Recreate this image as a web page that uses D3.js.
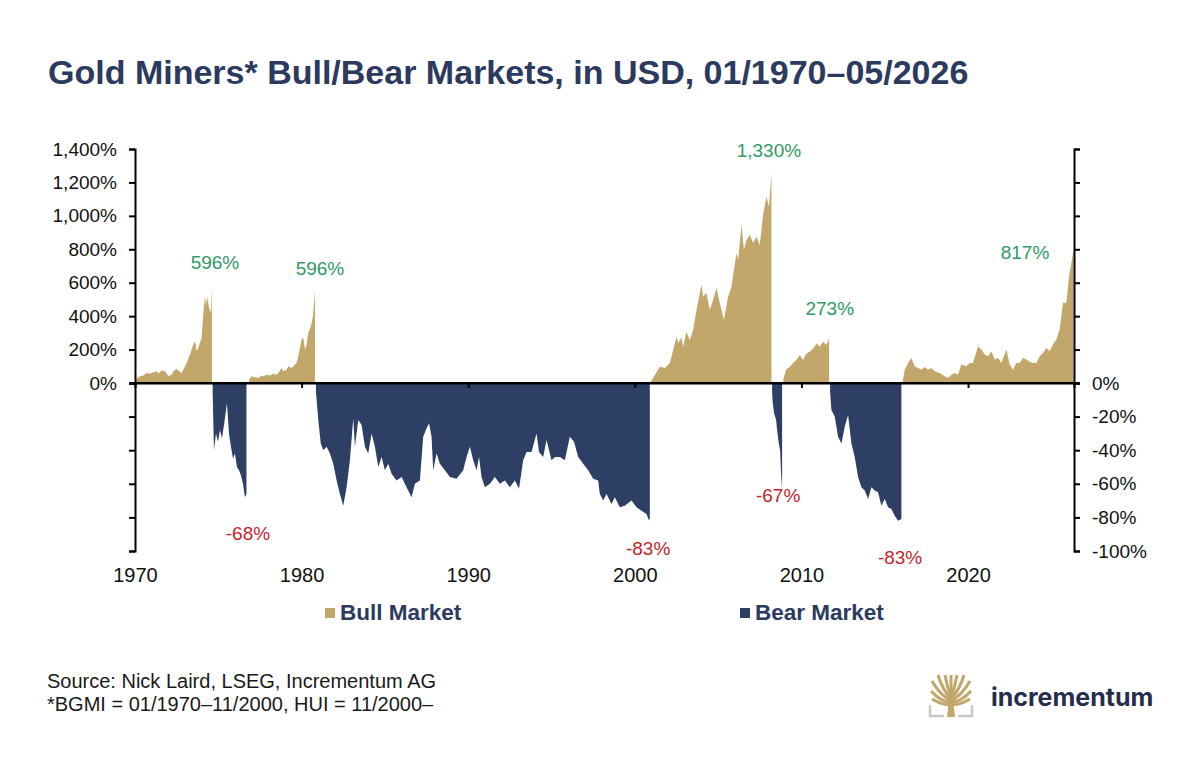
<!DOCTYPE html>
<html>
<head>
<meta charset="utf-8">
<script src="https://cdn.jsdelivr.net/npm/d3@7"></script>
<style>
  body { margin: 0; background: #fff; }
  svg { display: block; font-family: "Liberation Sans", Arial, sans-serif; }
</style>
</head>
<body>
<div id="chart"></div>
<script>
// [decimal year, % change from the start of the cycle]
const bull1970 = [[1970.0,20],[1970.1,25],[1970.3,40],[1970.5,45],[1970.7,60],[1970.9,55],[1971.1,65],[1971.3,70],[1971.4,55],[1971.6,75],[1971.8,70],[1972.0,40],[1972.2,50],[1972.3,70],[1972.5,85],[1972.6,75],[1972.8,60],[1972.9,80],[1973.1,120],[1973.3,170],[1973.5,230],[1973.6,250],[1973.7,190],[1973.8,210],[1974.0,270],[1974.1,420],[1974.2,520],[1974.26,460],[1974.32,520],[1974.44,450],[1974.56,420],[1974.62,570]];
const bear1974 = [[1974.66,-5],[1974.74,-40],[1974.86,-30],[1974.98,-35],[1975.1,-28],[1975.22,-33],[1975.34,-25],[1975.52,-12],[1975.64,-30],[1975.76,-38],[1975.88,-45],[1976.0,-42],[1976.12,-50],[1976.24,-52],[1976.36,-55],[1976.48,-60],[1976.6,-68],[1976.69,-66]];
const bull1976 = [[1976.84,20],[1977.0,40],[1977.2,35],[1977.4,30],[1977.6,45],[1977.7,40],[1977.9,50],[1978.1,45],[1978.3,55],[1978.5,50],[1978.6,60],[1978.8,90],[1978.9,70],[1979.1,80],[1979.2,100],[1979.4,90],[1979.6,110],[1979.7,120],[1979.8,160],[1980.0,260],[1980.1,270],[1980.2,200],[1980.3,230],[1980.4,300],[1980.56,340],[1980.68,400],[1980.8,550]];
const bear1980 = [[1980.86,-5],[1981.0,-22],[1981.15,-36],[1981.3,-40],[1981.5,-38],[1981.7,-42],[1981.9,-48],[1982.1,-58],[1982.3,-66],[1982.5,-73],[1982.7,-62],[1982.9,-46],[1983.1,-21],[1983.2,-38],[1983.4,-22],[1983.6,-25],[1983.8,-38],[1984.0,-42],[1984.2,-30],[1984.4,-38],[1984.6,-50],[1984.8,-44],[1985.0,-52],[1985.2,-48],[1985.4,-54],[1985.7,-58],[1986.0,-56],[1986.3,-62],[1986.6,-68],[1986.8,-60],[1987.1,-58],[1987.3,-32],[1987.5,-27],[1987.65,-24],[1987.8,-32],[1987.9,-52],[1988.1,-42],[1988.3,-48],[1988.6,-52],[1988.9,-56],[1989.3,-57],[1989.7,-52],[1989.9,-44],[1990.1,-38],[1990.3,-46],[1990.5,-52],[1990.65,-44],[1990.8,-56],[1991.0,-62],[1991.3,-60],[1991.6,-56],[1991.9,-60],[1992.2,-58],[1992.5,-62],[1992.8,-58],[1993.05,-63],[1993.3,-46],[1993.5,-41],[1993.8,-41],[1994.1,-30],[1994.25,-41],[1994.5,-44],[1994.7,-34],[1995.0,-46],[1995.2,-44],[1995.5,-44],[1995.8,-46],[1996.1,-32],[1996.35,-35],[1996.6,-44],[1996.9,-48],[1997.2,-52],[1997.5,-57],[1997.8,-58],[1997.9,-66],[1998.1,-70],[1998.3,-66],[1998.6,-72],[1998.8,-68],[1999.1,-74],[1999.4,-73],[1999.8,-70],[2000.1,-74],[2000.4,-76],[2000.7,-78],[2000.85,-82],[2000.9,-80]];
const bull2000 = [[2000.94,5],[2001.2,48],[2001.5,97],[2001.8,90],[2002.1,120],[2002.2,157],[2002.5,277],[2002.6,240],[2002.8,270],[2002.9,217],[2003.1,307],[2003.3,257],[2003.5,317],[2003.7,437],[2004.0,586],[2004.1,516],[2004.3,538],[2004.5,437],[2004.7,496],[2004.9,568],[2005.1,478],[2005.35,377],[2005.6,516],[2005.8,576],[2006.1,777],[2006.2,736],[2006.4,945],[2006.55,795],[2006.7,855],[2006.9,885],[2007.1,837],[2007.3,875],[2007.5,825],[2007.7,1005],[2007.9,1114],[2008.05,1054],[2008.2,1254]];
const bear2008 = [[2008.24,-5],[2008.28,-12],[2008.36,-18],[2008.48,-22],[2008.54,-28],[2008.64,-36],[2008.72,-40],[2008.78,-54],[2008.84,-64]];
const bull2008 = [[2008.91,20],[2009.07,78],[2009.3,97],[2009.5,120],[2009.7,138],[2009.9,167],[2010.1,138],[2010.3,177],[2010.5,187],[2010.7,207],[2010.9,237],[2011.1,217],[2011.3,247],[2011.5,227],[2011.66,267]];
const bear2011 = [[2011.72,-5],[2011.8,-16],[2012.0,-20],[2012.2,-32],[2012.4,-36],[2012.6,-26],[2012.8,-19],[2013.0,-36],[2013.2,-44],[2013.4,-56],[2013.6,-62],[2013.8,-64],[2014.0,-69],[2014.2,-62],[2014.4,-64],[2014.6,-65],[2014.8,-73],[2015.0,-69],[2015.2,-74],[2015.4,-75],[2015.6,-79],[2015.8,-82],[2016.0,-81]];
const bull2016 = [[2016.08,10],[2016.2,80],[2016.4,120],[2016.6,150],[2016.8,100],[2017.0,90],[2017.2,80],[2017.4,96],[2017.6,80],[2017.8,90],[2018.0,70],[2018.3,60],[2018.6,40],[2018.8,30],[2019.0,50],[2019.2,60],[2019.4,50],[2019.6,110],[2019.9,100],[2020.1,120],[2020.3,120],[2020.6,220],[2020.8,200],[2021.0,170],[2021.2,160],[2021.4,190],[2021.6,140],[2021.8,150],[2022.0,120],[2022.3,200],[2022.5,110],[2022.7,80],[2022.9,120],[2023.1,120],[2023.3,150],[2023.5,140],[2023.7,127],[2023.9,120],[2024.1,120],[2024.3,160],[2024.5,180],[2024.7,210],[2024.9,190],[2025.1,230],[2025.3,260],[2025.5,320],[2025.7,480],[2025.9,480],[2026.06,637],[2026.2,717],[2026.33,797]];

const bullSegments = [bull1970, bull1976, bull2000, bull2008, bull2016];
const bearSegments = [bear1974, bear1980, bear2008, bear2011];

const upTicks = [0, 200, 400, 600, 800, 1000, 1200, 1400];
const downTicks = [0, -20, -40, -60, -80, -100];
const yearTicks = [1970, 1980, 1990, 2000, 2010, 2020];

// peak / trough callouts: [year, value, text]
const bullLabels = [[1974.8, 682, "596%"], [1981.1, 646, "596%"], [2008.05, 1351, "1,330%"], [2011.7, 407, "273%"], [2023.42, 742, "817%"]];
const bearLabels = [[1976.78, -93.5, "-68%"], [2000.8, -102.4, "-83%"], [2008.6, -70.8, "-67%"], [2015.92, -107.7, "-83%"]];

const GOLD = "#c2a66a";
const NAVY = "#2e3f66";
const TEXT_NAVY = "#2b3a5e";

drawChart();

function drawChart() {
    const width = 1200;
    const height = 764;

    const svg = d3.select("#chart").append("svg")
        .attr("width", width)
        .attr("height", height);

    const x = d3.scaleLinear().domain([1970, 2026.36]).range([135, 1074]);
    const yUp = d3.scaleLinear().domain([0, 1400]).range([383, 149]);
    const yDown = d3.scaleLinear().domain([-100, 0]).range([551, 383]);

    svg.append("text")
        .attr("x", 48)
        .attr("y", 84)
        .attr("font-size", 34)
        .attr("font-weight", "bold")
        .attr("fill", TEXT_NAVY)
        .text("Gold Miners* Bull/Bear Markets, in USD, 01/1970–05/2026");

    const bullArea = d3.area()
        .x(d => x(d[0]))
        .y0(yUp(0))
        .y1(d => yUp(d[1]));

    const bearArea = d3.area()
        .x(d => x(d[0]))
        .y0(yDown(0))
        .y1(d => yDown(d[1]));

    svg.append("g")
        .selectAll("path")
        .data(bullSegments)
        .enter()
        .append("path")
        .attr("d", bullArea)
        .attr("fill", GOLD);

    svg.append("g")
        .selectAll("path")
        .data(bearSegments)
        .enter()
        .append("path")
        .attr("d", bearArea)
        .attr("fill", NAVY);

    // left axis: labelled above zero, bare ticks below (and the other way round on the right)
    const pct = d => d3.format(",")(d).replace("−", "-") + "%";
    const left = svg.append("g").attr("transform", `translate(${x(1970)},0)`);
    left.append("g").call(d3.axisLeft(yUp).tickValues(upTicks).tickSize(6).tickPadding(12).tickFormat(pct));
    left.append("g").call(d3.axisLeft(yDown).tickValues(downTicks).tickSize(6).tickFormat(""));

    const right = svg.append("g").attr("transform", `translate(${x(2026.36)},0)`);
    right.append("g").call(d3.axisRight(yDown).tickValues(downTicks).tickSize(6).tickPadding(12).tickFormat(pct));
    right.append("g").call(d3.axisRight(yUp).tickValues(upTicks).tickSize(6).tickFormat(""));

    svg.append("g")
        .attr("transform", `translate(0,${yUp(0)})`)
        .call(d3.axisBottom(x).tickValues(yearTicks.slice(1)).tickSize(5).tickFormat(""));

    svg.append("g")
        .attr("class", "year-labels")
        .attr("transform", "translate(0,565)")
        .call(d3.axisBottom(x).tickValues(yearTicks).tickSize(0).tickPadding(3).tickFormat(d3.format("d")))
        .call(g => g.select(".domain").remove());

    svg.selectAll(".domain").attr("stroke", "#000").attr("stroke-width", 2);
    svg.selectAll(".tick line").attr("stroke", "#000").attr("stroke-width", 2);
    svg.selectAll(".tick text")
        .attr("font-size", 19)
        .attr("font-family", "Liberation Sans, Arial, sans-serif")
        .attr("fill", "#111");
    svg.selectAll(".year-labels .tick text").attr("font-size", 20);

    svg.append("line")
        .attr("x1", x(1970)).attr("x2", x(2026.36))
        .attr("y1", yUp(0)).attr("y2", yUp(0))
        .attr("stroke", "#000")
        .attr("stroke-width", 2);

    svg.append("g")
        .selectAll("text")
        .data(bullLabels)
        .enter()
        .append("text")
        .attr("x", d => x(d[0]))
        .attr("y", d => yUp(d[1]))
        .attr("text-anchor", "middle")
        .attr("font-size", 19)
        .attr("fill", "#2f9a64")
        .text(d => d[2]);

    svg.append("g")
        .selectAll("text")
        .data(bearLabels)
        .enter()
        .append("text")
        .attr("x", d => x(d[0]))
        .attr("y", d => yDown(d[1]))
        .attr("text-anchor", "middle")
        .attr("font-size", 19)
        .attr("fill", "#c3252c")
        .text(d => d[2]);

    drawLegend(svg);
    drawFooter(svg);
}

function drawLegend(svg) {
    const items = [
        { name: "Bull Market", color: GOLD, x: 325 },
        { name: "Bear Market", color: NAVY, x: 740 }
    ];

    const item = svg.append("g")
        .selectAll("g")
        .data(items)
        .enter()
        .append("g")
        .attr("transform", d => `translate(${d.x},608)`);

    item.append("rect")
        .attr("width", 10)
        .attr("height", 10)
        .attr("fill", d => d.color);

    item.append("text")
        .attr("x", 15)
        .attr("y", 12)
        .attr("font-size", 22.5)
        .attr("font-weight", "bold")
        .attr("fill", TEXT_NAVY)
        .text(d => d.name);
}

function drawFooter(svg) {
    svg.append("text")
        .attr("x", 47)
        .attr("y", 688)
        .attr("font-size", 20)
        .attr("fill", "#1a1a1a")
        .text("Source: Nick Laird, LSEG, Incrementum AG");

    svg.append("text")
        .attr("x", 47)
        .attr("y", 711)
        .attr("font-size", 20)
        .attr("fill", "#1a1a1a")
        .text("*BGMI = 01/1970–11/2000, HUI = 11/2000–");

    // incrementum mark: a gold tree inside a grey bracket
    const logo = svg.append("g").attr("transform", "translate(930,675)");

    logo.append("path")
        .attr("d", "M0,30 V41 H14 M42,30 V41 H28")
        .attr("fill", "none")
        .attr("stroke", "#c9c9c9")
        .attr("stroke-width", 2.5);

    logo.append("path")
        .attr("d", "M17,42 L19,24 Q21,18 21,10 L21,22 L23,22 Q23,18 25,10 L23,24 L25,42 Z")
        .attr("fill", GOLD);

    const branches = [
        "M21,26 Q10,20 2,6", "M21,24 Q12,14 8,0", "M21,22 Q17,12 15,0",
        "M21,20 Q21,10 21,0", "M21,22 Q25,12 27,0", "M21,24 Q30,14 34,0",
        "M21,26 Q32,20 40,6", "M21,28 Q10,26 1,16", "M21,28 Q32,26 41,16",
        "M21,30 Q12,30 2,24", "M21,30 Q30,30 40,24"
    ];
    logo.append("g")
        .selectAll("path")
        .data(branches)
        .enter()
        .append("path")
        .attr("d", d => d)
        .attr("fill", "none")
        .attr("stroke", GOLD)
        .attr("stroke-width", 3);

    svg.append("text")
        .attr("x", 991)
        .attr("y", 706)
        .attr("font-size", 25)
        .attr("font-weight", "bold")
        .attr("font-family", "Inter, Roboto, sans-serif")
        .attr("fill", "#262d4a")
        .text("incrementum");
}
</script>
</body>
</html>
